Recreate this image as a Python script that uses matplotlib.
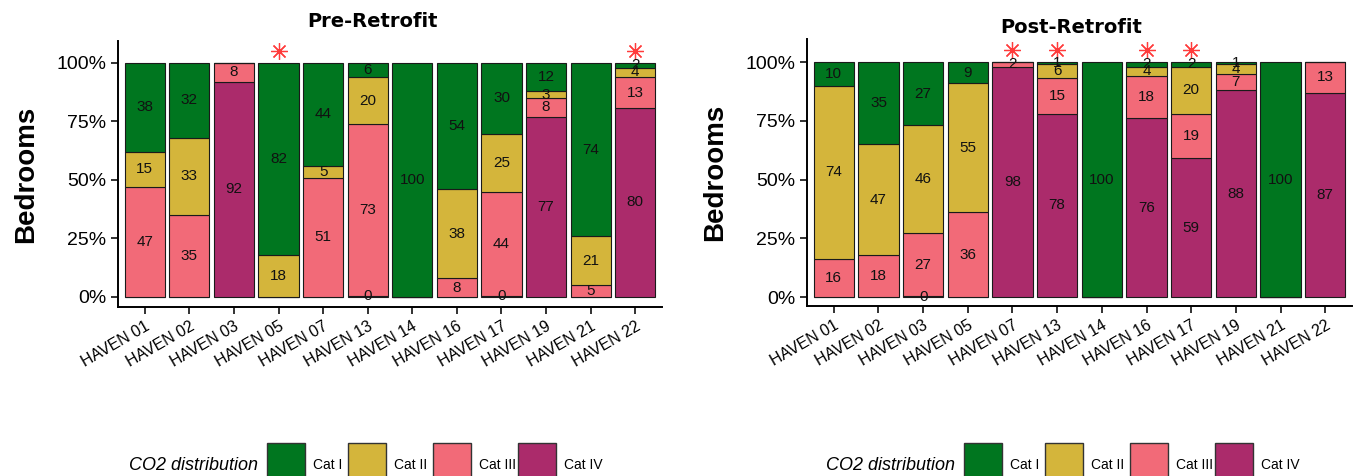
import numpy as np
import matplotlib
matplotlib.use('Agg')
import matplotlib.pyplot as plt
from matplotlib.patches import Rectangle

plt.rcParams['font.family'] = ['Liberation Sans', 'DejaVu Sans']

categories = ['Cat I', 'Cat II', 'Cat III', 'Cat IV']
colors = ['#00761F', '#D4B53B', '#F26A78', '#AB2B6B']

pre_sites = ['HAVEN 01', 'HAVEN 02', 'HAVEN 03', 'HAVEN 05', 'HAVEN 07', 'HAVEN 13',
             'HAVEN 14', 'HAVEN 16', 'HAVEN 17', 'HAVEN 19', 'HAVEN 21', 'HAVEN 22']
pre_cat1 = [38, 32, 0, 82, 44, 6, 100, 54, 30, 12, 74, 2]
pre_cat2 = [15, 33, 0, 18, 5, 20, 0, 38, 25, 3, 21, 4]
pre_cat3 = [47, 35, 8, 0, 51, 73, 0, 8, 44, 8, 5, 13]
pre_cat4 = [0, 0, 92, 0, 0, 0.4, 0, 0, 0.4, 77, 0, 80]
pre_flagged = ['HAVEN 05', 'HAVEN 22']

post_sites = ['HAVEN 01', 'HAVEN 02', 'HAVEN 03', 'HAVEN 05', 'HAVEN 07', 'HAVEN 13',
              'HAVEN 14', 'HAVEN 16', 'HAVEN 17', 'HAVEN 19', 'HAVEN 21', 'HAVEN 22']
post_cat1 = [10, 35, 27, 9, 0, 1, 100, 2, 2, 1, 100, 0]
post_cat2 = [74, 47, 46, 55, 0, 6, 0, 4, 20, 4, 0, 0]
post_cat3 = [16, 18, 27, 36, 2, 15, 0, 18, 19, 7, 0, 13]
post_cat4 = [0, 0, 0.4, 0, 98, 78, 0, 76, 59, 88, 0, 87]
post_flagged = ['HAVEN 07', 'HAVEN 13', 'HAVEN 16', 'HAVEN 17']

W, H = 1354, 476
fig = plt.figure(figsize=(W / 100, H / 100), dpi=100)


def px_axes(x0, y0, x1, y1):
    # pixel box (top-left origin) -> figure fraction
    return fig.add_axes([x0 / W, 1 - y1 / H, (x1 - x0) / W, (y1 - y0) / H])


def stacked(ax, sites, cats, flagged, title, ylim, title_x, title_pad):
    x = np.arange(len(sites))
    vals = np.array(cats, dtype=float)           # rows: Cat I..IV
    totals = vals.sum(axis=0)
    shares = vals / totals * 100                 # position = "fill"
    bottom = np.zeros(len(sites))
    # stack from Cat IV at the bottom up to Cat I at the top
    for k in [3, 2, 1, 0]:
        ax.bar(x, shares[k], bottom=bottom, width=0.9, color=colors[k],
               edgecolor='#1a1a1a', linewidth=0.8)
        for i in range(len(sites)):
            if vals[k, i] > 0:
                ax.text(x[i], bottom[i] + shares[k, i] / 2, f'{vals[k, i]:.0f}',
                        ha='center', va='center', fontsize=11, color='#111111')
        bottom += shares[k]
    fx = [sites.index(s) for s in flagged]
    ax.plot(fx, [105] * len(fx), linestyle='none', marker=(8, 2, 0),
            markersize=12, color='#FF3B3B', markeredgewidth=0.9)

    ax.set_xlim(-0.6, len(sites) - 0.4)
    ax.set_ylim(*ylim)
    ax.set_yticks([0, 25, 50, 75, 100])
    ax.set_yticklabels(['0%', '25%', '50%', '75%', '100%'], fontsize=14)
    ax.set_xticks(x)
    ax.set_xticklabels(sites, rotation=30, ha='right', rotation_mode='anchor',
                       fontsize=11.5)
    for s in ['top', 'right']:
        ax.spines[s].set_visible(False)
    for s in ['left', 'bottom']:
        ax.spines[s].set_linewidth(1.4)
    ax.tick_params(length=5, width=1.3, color='#222222')
    ax.set_title(title, fontsize=14, fontweight='bold', family='DejaVu Sans',
                 x=title_x, pad=title_pad)
    ax.set_ylabel('Bedrooms', fontsize=20, fontweight='bold', labelpad=12)


ax1 = px_axes(118, 41, 662, 307)
stacked(ax1, pre_sites, [pre_cat1, pre_cat2, pre_cat3, pre_cat4], pre_flagged,
        'Pre-Retrofit', (-4.3, 109.4), 0.467, 10)

ax2 = px_axes(807, 39, 1352, 306)
stacked(ax2, post_sites, [post_cat1, post_cat2, post_cat3, post_cat4], post_flagged,
        'Post-Retrofit', (-3.8, 109.8), 0.485, 4)

# legends drawn in pixel space below each panel
lax = fig.add_axes([0, 0, 1, 1])
lax.set_xlim(0, W)
lax.set_ylim(H, 0)
lax.axis('off')
key_x = [267, 348, 433, 518]
for off in [0, 697]:
    lax.text(258 + off, 465, 'CO2 distribution', ha='right', va='center',
             fontsize=13, style='italic')
    for k, cat in enumerate(categories):
        lax.add_patch(Rectangle((key_x[k] + off, 443), 38, 40, facecolor=colors[k],
                                edgecolor='#333333', linewidth=1.0))
        lax.text(key_x[k] + off + 46, 465, cat, ha='left', va='center', fontsize=10)

fig.savefig('out.png', dpi=100)
